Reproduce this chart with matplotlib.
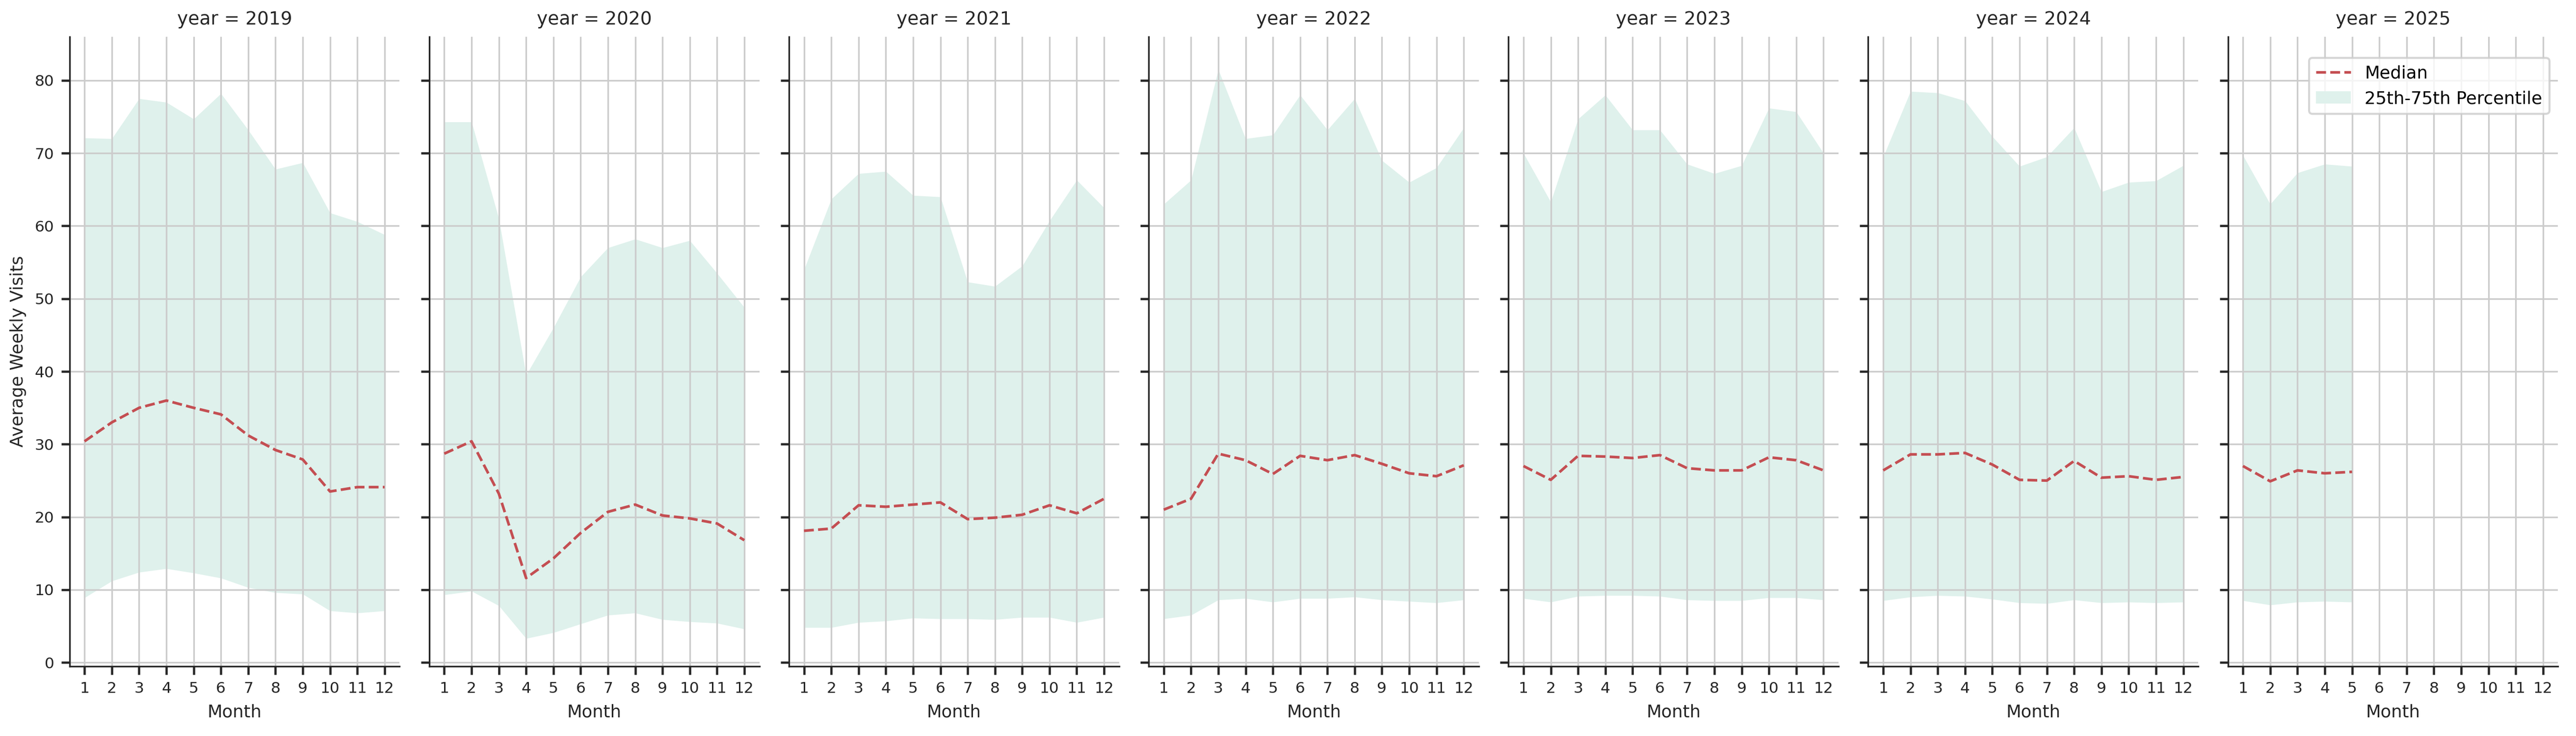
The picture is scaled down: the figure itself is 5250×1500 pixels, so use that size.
import numpy as np
import matplotlib.pyplot as plt

years = [2019, 2020, 2021, 2022, 2023, 2024, 2025]

median = {
    2019: [30.4, 33.0, 35.0, 36.0, 35.0, 34.1, 31.2, 29.2, 27.9, 23.5, 24.1, 24.1],
    2020: [28.7, 30.4, 23.2, 11.6, 14.3, 17.8, 20.7, 21.7, 20.2, 19.8, 19.1, 16.8],
    2021: [18.1, 18.4, 21.6, 21.4, 21.7, 22.0, 19.7, 19.9, 20.3, 21.6, 20.5, 22.5],
    2022: [21.0, 22.5, 28.7, 27.8, 25.9, 28.4, 27.8, 28.5, 27.3, 26.0, 25.6, 27.1],
    2023: [27.0, 25.1, 28.4, 28.3, 28.1, 28.5, 26.7, 26.4, 26.4, 28.2, 27.8, 26.4],
    2024: [26.4, 28.6, 28.6, 28.8, 27.2, 25.1, 25.0, 27.7, 25.4, 25.6, 25.1, 25.5],
    2025: [27.0, 24.9, 26.4, 26.0, 26.2],
}
upper = {
    2019: [72.1, 72.0, 77.5, 77.0, 74.7, 78.2, 73.2, 67.8, 68.7, 61.8, 60.6, 58.8],
    2020: [74.3, 74.3, 61.0, 39.5, 46.0, 53.0, 57.0, 58.2, 57.0, 58.0, 53.5, 48.8],
    2021: [54.0, 63.7, 67.2, 67.5, 64.2, 64.0, 52.3, 51.7, 54.5, 60.7, 66.3, 62.5],
    2022: [63.0, 66.3, 81.5, 72.0, 72.5, 78.0, 73.2, 77.5, 69.0, 66.0, 68.0, 73.5],
    2023: [70.0, 63.3, 74.7, 78.0, 73.2, 73.2, 68.5, 67.2, 68.3, 76.2, 75.7, 70.0],
    2024: [69.5, 78.5, 78.3, 77.2, 72.3, 68.2, 69.5, 73.5, 64.7, 66.0, 66.2, 68.3],
    2025: [69.7, 63.0, 67.3, 68.5, 68.2],
}
lower = {
    2019: [8.9, 11.2, 12.4, 12.9, 12.3, 11.6, 10.3, 9.6, 9.4, 7.1, 6.8, 7.1],
    2020: [9.3, 9.8, 7.8, 3.3, 4.1, 5.3, 6.5, 6.8, 5.9, 5.6, 5.4, 4.6],
    2021: [4.8, 4.8, 5.5, 5.7, 6.1, 6.0, 6.0, 5.9, 6.2, 6.2, 5.5, 6.2],
    2022: [6.0, 6.5, 8.6, 8.8, 8.3, 8.8, 8.8, 9.0, 8.6, 8.4, 8.2, 8.6],
    2023: [8.8, 8.3, 9.1, 9.2, 9.2, 9.1, 8.6, 8.5, 8.5, 8.9, 8.9, 8.6],
    2024: [8.5, 9.0, 9.2, 9.1, 8.7, 8.2, 8.1, 8.6, 8.2, 8.3, 8.2, 8.3],
    2025: [8.5, 7.9, 8.3, 8.4, 8.3],
}
months = list(range(1, 13))

fig, axes = plt.subplots(1, 7, figsize=(17.5, 5), dpi=300, sharey=True)
for ax, yr in zip(axes, years):
    n = len(median[yr])
    x = months[:n]
    ax.plot(x, median[yr], ls='--', color='#c44e52', lw=1.3, label='Median', zorder=3)
    ax.fill_between(x, lower[yr], upper[yr], color='#dff1ec', lw=0,
                    label='25th-75th Percentile', zorder=1)
    ax.set_title(f'year = {yr}', fontsize=9, color='#262626')
    ax.set_xlim(0.45, 12.55)
    ax.set_xticks(months)
    ax.set_ylim(-0.5, 86)
    ax.set_yticks(range(0, 81, 10))
    ax.grid(True, color='#cccccc', lw=0.8, zorder=2)
    ax.tick_params(labelsize=7.5, colors='#262626', length=4, width=1.1)
    ax.spines['top'].set_visible(False)
    ax.spines['right'].set_visible(False)
    ax.spines['left'].set_color('#262626')
    ax.spines['bottom'].set_color('#262626')
    ax.set_xlabel('Month', fontsize=8.5, color='#262626')
axes[0].set_ylabel('Average Weekly Visits', fontsize=8.5, color='#262626')
axes[-1].legend(loc='upper right', fontsize=8.5, framealpha=0.8,
                bbox_to_anchor=(1.0, 0.98))

fig.subplots_adjust(left=0.027, right=0.993, bottom=0.095, top=0.95, wspace=0.09)
fig.savefig('out.png')
